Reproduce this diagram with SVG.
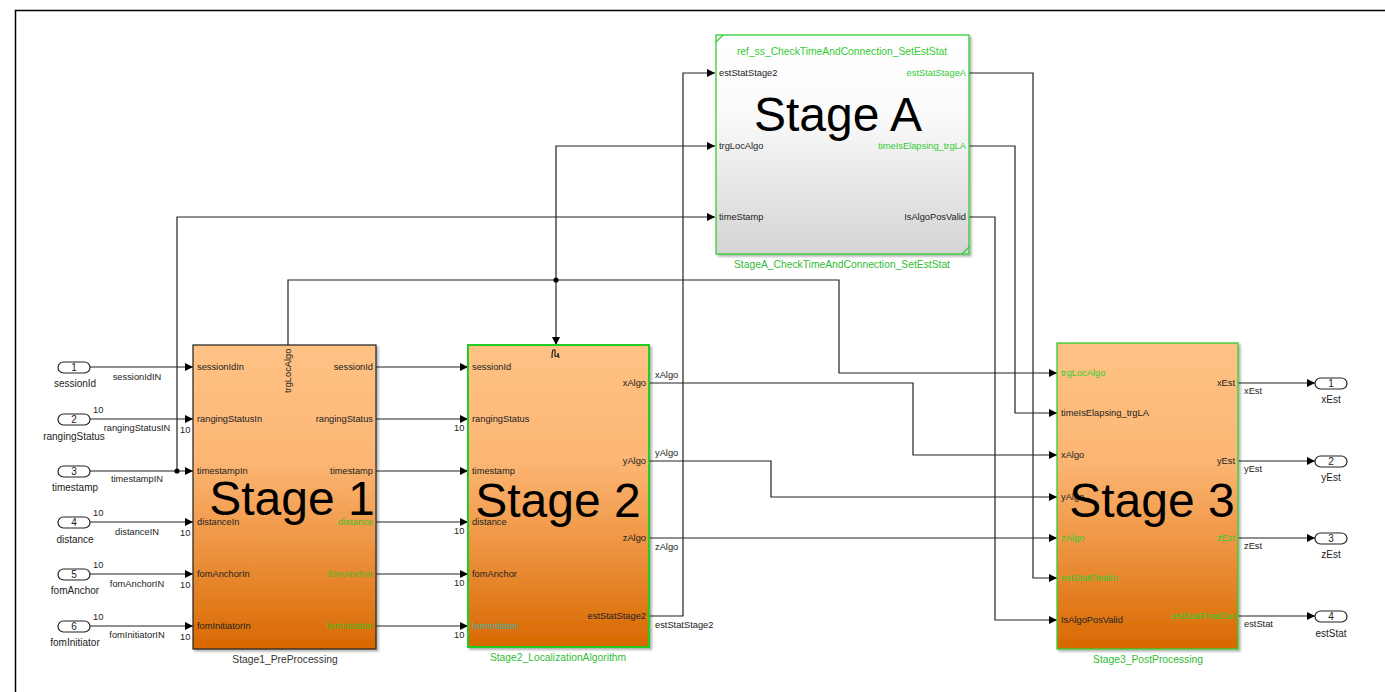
<svg xmlns="http://www.w3.org/2000/svg" width="1385" height="692" viewBox="0 0 1385 692">
<defs>
<linearGradient id="gOr" x1="0" y1="0" x2="0" y2="1">
<stop offset="0" stop-color="#ffc285"/><stop offset="0.38" stop-color="#fcb674"/><stop offset="0.65" stop-color="#ee9644"/><stop offset="1" stop-color="#d86800"/>
</linearGradient>
<linearGradient id="gGr" x1="0" y1="0" x2="0" y2="1">
<stop offset="0" stop-color="#ffffff"/><stop offset="0.35" stop-color="#fbfbfb"/><stop offset="1" stop-color="#d4d4d4"/>
</linearGradient>
<marker id="ar" viewBox="0 0 10 10" refX="10" refY="5" markerWidth="8" markerHeight="8" markerUnits="userSpaceOnUse" orient="auto">
<path d="M0,0 L10,5 L0,10 z" fill="#000"/>
</marker>
<filter id="sh" x="-5%" y="-5%" width="110%" height="110%"><feDropShadow dx="2" dy="2" stdDeviation="1.2" flood-color="#000" flood-opacity="0.3"/></filter>
</defs>
<style>
text{font-family:"Liberation Sans",Arial,sans-serif;}
.t{font-size:9.3px;fill:#222;}
.g{font-size:9.3px;fill:#33cc33;}
.p{font-size:10px;fill:#222;text-anchor:middle;}
.r{text-anchor:end;}
.m{text-anchor:middle;}
.big{font-size:48px;fill:#000;text-anchor:middle;}
.cap{font-size:10.3px;text-anchor:middle;}
.w{fill:none;stroke:#222;stroke-width:1.2;}
.a{marker-end:url(#ar);}
.pill{fill:#fff;stroke:#222;stroke-width:1.2;}
</style>
<rect x="15.5" y="10.5" width="1400" height="700" fill="#fff" stroke="#000" stroke-width="1.5"/>

<g id="connectors">
<path class="w a" d="M90,367 H193"/>
<path class="w a" d="M90,419 H193"/>
<path class="w a" d="M90,471 H193"/>
<path class="w a" d="M90,522 H193"/>
<path class="w a" d="M90,574 H193"/>
<path class="w a" d="M90,626 H193"/>
<path class="w a" d="M177,471 V217 H715"/>
<circle cx="177" cy="471" r="2.6" fill="#000"/>
<path class="w a" d="M376,367 H468"/>
<path class="w a" d="M376,419 H468"/>
<path class="w a" d="M376,471 H468"/>
<path class="w a" d="M376,522 H468"/>
<path class="w a" d="M376,574 H468"/>
<path class="w a" d="M376,626 H468"/>
<path class="w a" d="M288,345 V280 H839 V373 H1057"/>
<path class="w a" d="M556,280 V146 H715"/>
<path class="w a" d="M556,280 V345"/>
<circle cx="556" cy="280" r="2.6" fill="#000"/>
<path class="w a" d="M649,383 H913 V455 H1057"/>
<path class="w a" d="M649,461 H771 V497 H1057"/>
<path class="w a" d="M649,538 H1057"/>
<path class="w a" d="M649,616 H683 V73 H715"/>
<path class="w a" d="M969,73 H1033 V578 H1057"/>
<path class="w a" d="M969,146 H1015 V413 H1057"/>
<path class="w a" d="M969,217 H995 V620 H1057"/>
<path class="w a" d="M1238,383 H1315"/>
<path class="w a" d="M1238,461 H1315"/>
<path class="w a" d="M1238,538 H1315"/>
<path class="w a" d="M1238,616 H1315"/>
<text class="t m" x="137" y="380">sessionIdIN</text>
<text class="t m" x="137" y="431">rangingStatusIN</text>
<text class="t m" x="137" y="482">timestampIN</text>
<text class="t m" x="137" y="535">distanceIN</text>
<text class="t m" x="137" y="587">fomAnchorIN</text>
<text class="t m" x="137" y="638">fomInitiatorIN</text>
<text class="t" x="93" y="413">10</text>
<text class="t" x="93" y="516">10</text>
<text class="t" x="93" y="568">10</text>
<text class="t" x="93" y="620">10</text>
<text class="t" x="180" y="433">10</text>
<text class="t" x="180" y="536">10</text>
<text class="t" x="180" y="588">10</text>
<text class="t" x="180" y="640">10</text>
<text class="t" x="454" y="431">10</text>
<text class="t" x="454" y="534">10</text>
<text class="t" x="454" y="586">10</text>
<text class="t" x="454" y="638">10</text>
<text class="t" x="655" y="378">xAlgo</text>
<text class="t" x="655" y="456">yAlgo</text>
<text class="t" x="655" y="550">zAlgo</text>
<text class="t" x="655" y="628">estStatStage2</text>
<text class="t" x="1244" y="394">xEst</text>
<text class="t" x="1244" y="472">yEst</text>
<text class="t" x="1244" y="549">zEst</text>
<text class="t" x="1244" y="627">estStat</text>
</g>

<g id="in1"><rect class="pill" x="58" y="362" width="32" height="11" rx="5.5"/><text class="p" x="74" y="370.8">1</text><text class="p" x="75" y="387">sessionId</text></g>
<g id="in2"><rect class="pill" x="58" y="414" width="32" height="11" rx="5.5"/><text class="p" x="74" y="422.8">2</text><text class="p" x="74" y="440">rangingStatus</text></g>
<g id="in3"><rect class="pill" x="58" y="466" width="32" height="11" rx="5.5"/><text class="p" x="74" y="474.8">3</text><text class="p" x="75" y="491">timestamp</text></g>
<g id="in4"><rect class="pill" x="58" y="517" width="32" height="11" rx="5.5"/><text class="p" x="74" y="525.8">4</text><text class="p" x="75" y="543">distance</text></g>
<g id="in5"><rect class="pill" x="58" y="569" width="32" height="11" rx="5.5"/><text class="p" x="74" y="577.8">5</text><text class="p" x="75" y="594">fomAnchor</text></g>
<g id="in6"><rect class="pill" x="58" y="621" width="32" height="11" rx="5.5"/><text class="p" x="74" y="629.8">6</text><text class="p" x="75" y="646">fomInitiator</text></g>

<g id="stage1">
<rect x="193" y="345" width="183" height="304" fill="url(#gOr)" stroke="#222" stroke-width="1.2" filter="url(#sh)"/>
<text class="t" x="197" y="370">sessionIdIn</text>
<text class="t" x="197" y="422">rangingStatusIn</text>
<text class="t" x="197" y="474">timestampIn</text>
<text class="t" x="197" y="525">distanceIn</text>
<text class="t" x="197" y="577">fomAnchorIn</text>
<text class="t" x="197" y="629">fomInitiatorIn</text>
<text class="t r" x="373" y="370">sessionId</text>
<text class="t r" x="373" y="422">rangingStatus</text>
<text class="t r" x="373" y="474">timestamp</text>
<text class="g r" x="373" y="525" style="fill:#44bb22">distance</text>
<text class="g r" x="373" y="577" style="fill:#44bb22">fomAnchor</text>
<text class="g r" x="373" y="629" style="fill:#44bb22">fomInitiator</text>
<text class="t" transform="translate(291,393) rotate(-90)">trgLocAlgo</text>
<text class="big" x="292" y="515">Stage 1</text>
<text class="cap" x="285" y="663" fill="#333">Stage1_PreProcessing</text>
</g>

<g id="stage2">
<rect x="468" y="345" width="181" height="302" fill="url(#gOr)" stroke="#22cc22" stroke-width="2" filter="url(#sh)"/>
<path d="M552,358 Q552,352 553,350 L555,350 L555,356 Q556,357 558,356 L558,353 L559,358" fill="none" stroke="#222" stroke-width="1.2"/>
<text class="t" x="472" y="370">sessionId</text>
<text class="t" x="472" y="422">rangingStatus</text>
<text class="t" x="472" y="474">timestamp</text>
<text class="t" x="472" y="525">distance</text>
<text class="t" x="472" y="577">fomAnchor</text>
<text class="t" x="472" y="629" style="fill:#3fb3a8">fomInitiator</text>
<text class="t r" x="646" y="386">xAlgo</text>
<text class="t r" x="646" y="464">yAlgo</text>
<text class="t r" x="646" y="541">zAlgo</text>
<text class="t r" x="646" y="619">estStatStage2</text>
<text class="big" x="558" y="517">Stage 2</text>
<text class="cap" x="558" y="661" fill="#33bb33">Stage2_LocalizationAlgorithm</text>
</g>

<g id="stageA">
<rect x="716" y="35" width="253" height="219" fill="url(#gGr)" stroke="#33cc33" stroke-width="1.3" filter="url(#sh)"/>
<path d="M716,42 L723,35 M962,254 L969,247" stroke="#33cc33" stroke-width="1.2"/>
<text class="cap" x="842" y="55" fill="#33cc33">ref_ss_CheckTimeAndConnection_SetEstStat</text>
<text class="t" x="719" y="76">estStatStage2</text>
<text class="t" x="719" y="149">trgLocAlgo</text>
<text class="t" x="719" y="220">timeStamp</text>
<text class="g r" x="966" y="76">estStatStageA</text>
<text class="g r" x="966" y="149">timeIsElapsing_trgLA</text>
<text class="t r" x="966" y="220">IsAlgoPosValid</text>
<text class="big" x="838" y="131">Stage A</text>
<text class="cap" x="842" y="268" fill="#33bb33">StageA_CheckTimeAndConnection_SetEstStat</text>
</g>

<g id="stage3">
<rect x="1057" y="343" width="181" height="306" fill="url(#gOr)" stroke="#33cc33" stroke-width="1.3" filter="url(#sh)"/>
<text class="g" x="1061" y="376">trgLocAlgo</text>
<text class="t" x="1061" y="416">timeIsElapsing_trgLA</text>
<text class="t" x="1061" y="458">xAlgo</text>
<text class="t" x="1061" y="500">yAlgo</text>
<text class="g" x="1061" y="541">zAlgo</text>
<text class="g" x="1061" y="581">estStatFinalIn</text>
<text class="t" x="1061" y="623">IsAlgoPosValid</text>
<text class="t r" x="1235" y="386">xEst</text>
<text class="t r" x="1235" y="464">yEst</text>
<text class="g r" x="1235" y="541">zEst</text>
<text class="g r" x="1235" y="619">estStatFinalOut</text>
<text class="big" x="1152" y="517">Stage 3</text>
<text class="cap" x="1148" y="663" fill="#33bb33">Stage3_PostProcessing</text>
</g>

<g id="out1"><rect class="pill" x="1315" y="378" width="32" height="11" rx="5.5"/><text class="p" x="1331" y="386.8">1</text><text class="p" x="1331" y="403">xEst</text></g>
<g id="out2"><rect class="pill" x="1315" y="456" width="32" height="11" rx="5.5"/><text class="p" x="1331" y="464.8">2</text><text class="p" x="1331" y="481">yEst</text></g>
<g id="out3"><rect class="pill" x="1315" y="533" width="32" height="11" rx="5.5"/><text class="p" x="1331" y="541.8">3</text><text class="p" x="1331" y="558">zEst</text></g>
<g id="out4"><rect class="pill" x="1315" y="611" width="32" height="11" rx="5.5"/><text class="p" x="1331" y="619.8">4</text><text class="p" x="1331" y="637">estStat</text></g>
</svg>
